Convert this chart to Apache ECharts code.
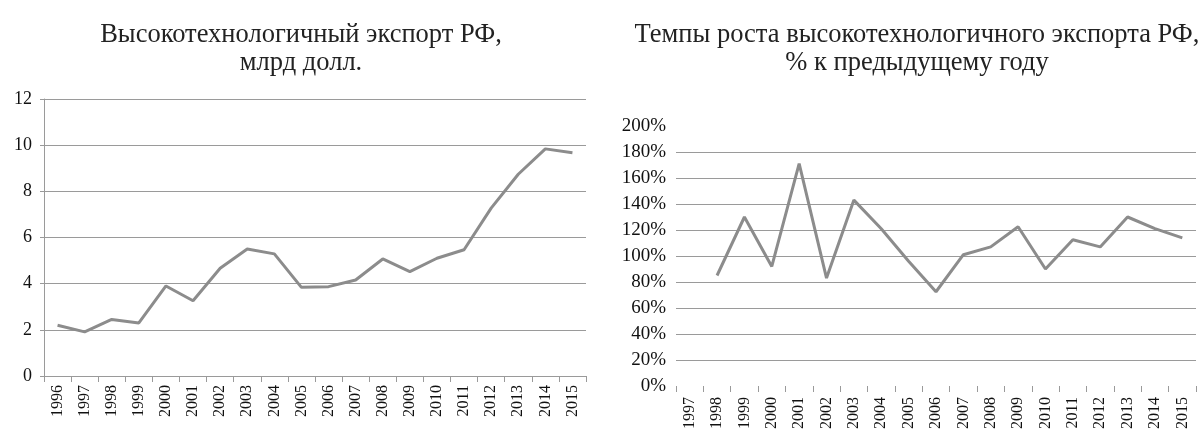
<!DOCTYPE html>
<html>
<head>
<meta charset="utf-8">
<script src="https://cdn.jsdelivr.net/npm/echarts@6/dist/echarts.min.js"></script>
<style>
    html,body{margin:0;padding:0;background:#fff;}
    #main{width:1200px;height:432px;}
</style>
</head>
<body>
<div id="main"></div>
<script>
// экспорт, млрд долл.
var exportYears=['1996','1997','1998','1999','2000','2001','2002','2003','2004','2005',
    '2006','2007','2008','2009','2010','2011','2012','2013','2014','2015'];
var exportValues=[2.2,1.91,2.45,2.3,3.9,3.26,4.67,5.5,5.29,3.84,
    3.87,4.16,5.07,4.52,5.1,5.47,7.27,8.74,9.84,9.67];
// темпы роста, %
var growthYears=['1997','1998','1999','2000','2001','2002','2003','2004','2005','2006',
    '2007','2008','2009','2010','2011','2012','2013','2014','2015'];
var growthValues=[null,85,130,92,171,83,143,121,96,72.5,
    101,107,122.5,90,112.5,107,130,121,114];

window.onload=function(){
    var font='Liberation Serif',
        gray='#9a9a9a',
        lineColor='#8c8c8c',
        splitColors=['transparent'];
    for(var i=0;i<9;i++){ splitColors.push(gray); }
    splitColors.push('transparent');

    var chart=echarts.init(document.getElementById('main'));
    chart.setOption({
        animation:false,
        textStyle:{fontFamily:font},
        title:[
            {
                text:'Высокотехнологичный экспорт РФ,\nмлрд долл.',
                left:296,top:16,textAlign:'center',
                textStyle:{fontFamily:font,fontSize:26.5,fontWeight:'normal',color:'#222',lineHeight:28}
            },
            {
                text:'Темпы роста высокотехнологичного экспорта РФ,\n% к предыдущему году',
                left:912,top:16,textAlign:'center',
                textStyle:{fontFamily:font,fontSize:26.5,fontWeight:'normal',color:'#222',lineHeight:28}
            }
        ],
        grid:[
            {left:44,top:99,width:542,height:277},
            {left:676,top:126,width:520,height:262}
        ],
        xAxis:[
            {
                type:'category',gridIndex:0,data:exportYears,boundaryGap:true,
                axisLine:{lineStyle:{color:gray,width:1}},
                axisTick:{show:true,length:6,lineStyle:{color:gray}},
                axisLabel:{rotate:90,interval:0,margin:9,color:'#111',fontSize:16,fontFamily:font}
            },
            {
                type:'category',gridIndex:1,data:growthYears,boundaryGap:true,
                axisLine:{show:false},
                axisTick:{show:true,length:6,lineStyle:{color:gray}},
                axisLabel:{rotate:90,interval:0,margin:11,color:'#111',fontSize:16,fontFamily:font}
            }
        ],
        yAxis:[
            {
                type:'value',gridIndex:0,min:0,max:12,interval:2,
                axisLine:{show:true,lineStyle:{color:gray}},
                axisTick:{show:true,length:4,lineStyle:{color:gray}},
                axisLabel:{margin:12,color:'#111',fontSize:18,fontFamily:font},
                splitLine:{lineStyle:{color:gray,width:1}}
            },
            {
                type:'value',gridIndex:1,min:0,max:200,interval:20,
                axisLine:{show:false},
                axisTick:{show:false},
                axisLabel:{margin:10,color:'#111',fontSize:19,fontFamily:font,formatter:'{value}%'},
                splitLine:{lineStyle:{color:splitColors,width:1}}
            }
        ],
        series:[
            {
                type:'line',xAxisIndex:0,yAxisIndex:0,data:exportValues,
                symbol:'none',lineStyle:{color:lineColor,width:3}
            },
            {
                type:'line',xAxisIndex:1,yAxisIndex:1,data:growthValues,
                symbol:'none',lineStyle:{color:lineColor,width:3}
            }
        ]
    });
};
</script>
</body>
</html>
